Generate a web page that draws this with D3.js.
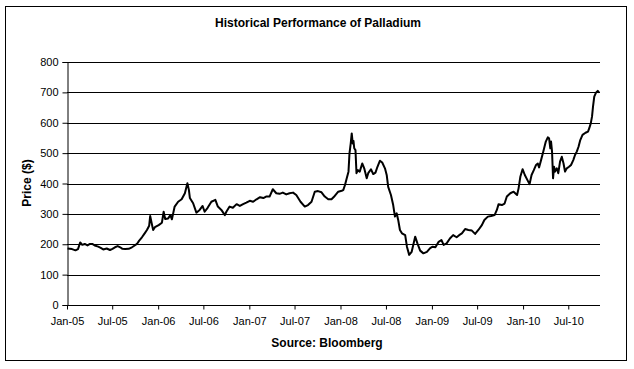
<!DOCTYPE html>
<html><head><meta charset="utf-8">
<script src="https://cdn.jsdelivr.net/npm/d3@7/dist/d3.min.js"></script>
<style>
body{margin:0;background:#fff;}
svg{display:block;font-family:"Liberation Sans",Arial,sans-serif;}
</style></head>
<body><svg id="c" width="634" height="369"></svg>
<script>
const title = "Historical Performance of Palladium";
const yTitle = "Price ($)";
const source = "Source: Bloomberg";
const yTicks = [0,100,200,300,400,500,600,700,800];
const xTickDates = ["2005-01-01","2005-07-01","2006-01-01","2006-07-01","2007-01-01","2007-07-01","2008-01-01","2008-07-01","2009-01-01","2009-07-01","2010-01-01","2010-07-01"];
const dates = [
"2005-01-03","2005-01-21","2005-02-04","2005-02-14","2005-02-23","2005-03-03","2005-03-13","2005-03-24","2005-04-03","2005-04-12","2005-04-22","2005-05-06","2005-05-16","2005-05-26","2005-06-09","2005-06-22","2005-07-02","2005-07-12","2005-07-23","2005-08-02","2005-08-11","2005-08-22","2005-09-05","2005-09-18","2005-09-29","2005-10-08","2005-10-17","2005-10-28","2005-11-08","2005-11-17","2005-11-26","2005-11-30","2005-12-06","2005-12-12","2005-12-19",
"2006-01-03","2006-01-16","2006-01-23","2006-01-29","2006-02-10","2006-02-19","2006-02-25","2006-03-08","2006-03-22","2006-04-05","2006-04-18","2006-04-28","2006-05-04","2006-05-08","2006-05-21","2006-06-03","2006-06-16","2006-06-28","2006-07-06","2006-07-18","2006-08-02","2006-08-18","2006-08-28","2006-09-11","2006-09-25","2006-10-01","2006-10-14","2006-10-27","2006-11-11","2006-11-24","2006-12-07","2006-12-20",
"2007-01-03","2007-01-16","2007-01-30","2007-02-13","2007-02-26","2007-03-09","2007-03-23","2007-04-05","2007-04-19","2007-05-02","2007-05-15","2007-05-29","2007-06-11","2007-06-25","2007-07-08","2007-07-25","2007-08-11","2007-08-24","2007-09-07","2007-09-20","2007-10-03","2007-10-17","2007-10-30","2007-11-13","2007-11-26","2007-12-09","2007-12-23",
"2008-01-06","2008-01-12","2008-01-19","2008-01-26","2008-02-02","2008-02-06","2008-02-11","2008-02-15","2008-02-19","2008-02-22","2008-02-25","2008-03-01","2008-03-05","2008-03-11","2008-03-18","2008-03-28","2008-04-05","2008-04-15","2008-04-21","2008-05-02","2008-05-11","2008-05-20","2008-05-28","2008-06-07","2008-06-16","2008-06-27","2008-07-04","2008-07-10","2008-07-21","2008-07-30","2008-08-06","2008-08-13","2008-08-19","2008-08-26","2008-09-03","2008-09-16","2008-09-23","2008-10-02","2008-10-12","2008-10-26","2008-11-04","2008-11-15","2008-11-28","2008-12-12","2008-12-25",
"2009-01-04","2009-01-15","2009-01-28","2009-02-08","2009-02-17","2009-03-01","2009-03-14","2009-03-27","2009-04-10","2009-04-20","2009-05-01","2009-05-14","2009-05-27","2009-06-10","2009-06-23","2009-07-06","2009-07-20","2009-07-30","2009-08-13","2009-08-26","2009-09-09","2009-09-18","2009-09-25","2009-10-08","2009-10-19","2009-10-28","2009-11-11","2009-11-24","2009-12-08","2009-12-14","2009-12-21","2009-12-30",
"2010-01-08","2010-01-18","2010-01-27","2010-02-04","2010-02-13","2010-02-22","2010-03-01","2010-03-06","2010-03-14","2010-03-23","2010-04-02","2010-04-10","2010-04-15","2010-04-20","2010-04-23","2010-04-27","2010-05-01","2010-05-05","2010-05-09","2010-05-16","2010-05-22","2010-05-29","2010-06-05","2010-06-12","2010-06-18","2010-06-25","2010-07-04","2010-07-12","2010-07-21","2010-07-28","2010-08-04","2010-08-11","2010-08-18","2010-08-27","2010-09-08","2010-09-18","2010-09-23","2010-09-29","2010-10-04","2010-10-08","2010-10-13","2010-10-20","2010-10-27","2010-11-01"
];
const prices = [
186,184,180,184,206,198,201,196,201,201,196,192,188,183,186,181,185,190,194,190,185,184,185,190,196,201,212,223,236,247,261,293,269,247,256,
263,271,307,283,285,296,282,324,340,348,368,401,379,352,335,304,313,326,307,320,340,346,324,313,296,307,324,320,332,326,332,337,
343,340,348,355,352,357,357,381,368,366,370,364,368,370,362,340,324,329,340,373,375,371,357,348,348,359,373,
376,378,395,417,439,499,532,565,532,540,516,510,434,444,439,466,450,417,434,447,431,436,455,475,469,450,428,389,362,329,291,302,280,247,236,230,192,165,175,225,203,179,170,175,187,
192,190,208,214,198,203,219,230,223,230,236,250,247,245,234,247,263,280,291,293,296,313,332,329,334,357,368,373,362,384,422,447,
428,412,398,428,444,461,466,453,477,505,538,552,549,516,538,505,417,455,439,450,434,472,488,466,439,450,455,461,477,494,505,521,543,560,567,571,582,598,620,653,686,699,705,699
];

const parse = d3.timeParse("%Y-%m-%d");
const data = dates.map((d,i)=>({date:parse(d), v:prices[i]}));

const L=67, R=600, T=62, B=305;
const svg = d3.select("#c");

svg.append("rect").attr("x",5.5).attr("y",6.5).attr("width",621).attr("height",354)
  .attr("fill","#fff").attr("stroke","#000").attr("stroke-width",1);

const x = d3.scaleTime().domain([parse("2005-01-01"), parse("2010-11-05")]).range([L,R]);
const y = d3.scaleLinear().domain([0,800]).range([B,T]);

// gridlines
svg.append("g").selectAll("line").data(yTicks.filter(d=>d>0)).join("line")
  .attr("x1",L).attr("x2",R)
  .attr("y1",d=>Math.round(y(d))+0.5).attr("y2",d=>Math.round(y(d))+0.5)
  .attr("stroke","#000").attr("stroke-width",1);

// y axis
const ya = svg.append("g").attr("transform",`translate(${L+0.5},0)`)
  .call(d3.axisLeft(y).tickValues(yTicks).tickSize(5).tickPadding(4).tickFormat(d3.format("d")));
ya.select(".domain").attr("stroke","#000");
ya.selectAll(".tick line").attr("stroke","#000");
ya.selectAll("text").attr("font-size",11).attr("fill","#000").attr("font-family","Liberation Sans, Arial, sans-serif");

// x axis
const xa = svg.append("g").attr("transform",`translate(0,${Math.round(B)+0.5})`)
  .call(d3.axisBottom(x).tickValues(xTickDates.map(parse)).tickSize(4).tickPadding(8).tickFormat(d3.timeFormat("%b-%y")));
xa.select(".domain").attr("stroke","#000").attr("d",`M${L},0H${R}`);
xa.selectAll(".tick line").attr("stroke","#000");
xa.selectAll("text").attr("font-size",11).attr("fill","#000").attr("font-family","Liberation Sans, Arial, sans-serif");

// line
const line = d3.line().x(d=>x(d.date)).y(d=>y(d.v));
svg.append("path").datum(data).attr("d",line).attr("fill","none")
  .attr("stroke","#000").attr("stroke-width",2).attr("stroke-linejoin","round");

// titles
svg.append("text").attr("x",318).attr("y",27).attr("text-anchor","middle")
  .attr("font-size",12).attr("font-weight","bold").attr("fill","#000").text(title);
svg.append("text").attr("transform","translate(31,183) rotate(-90)").attr("text-anchor","middle")
  .attr("font-size",12).attr("font-weight","bold").attr("fill","#000").text(yTitle);
svg.append("text").attr("x",327).attr("y",347).attr("text-anchor","middle")
  .attr("font-size",12).attr("font-weight","bold").attr("fill","#000").text(source);
</script></body></html>
